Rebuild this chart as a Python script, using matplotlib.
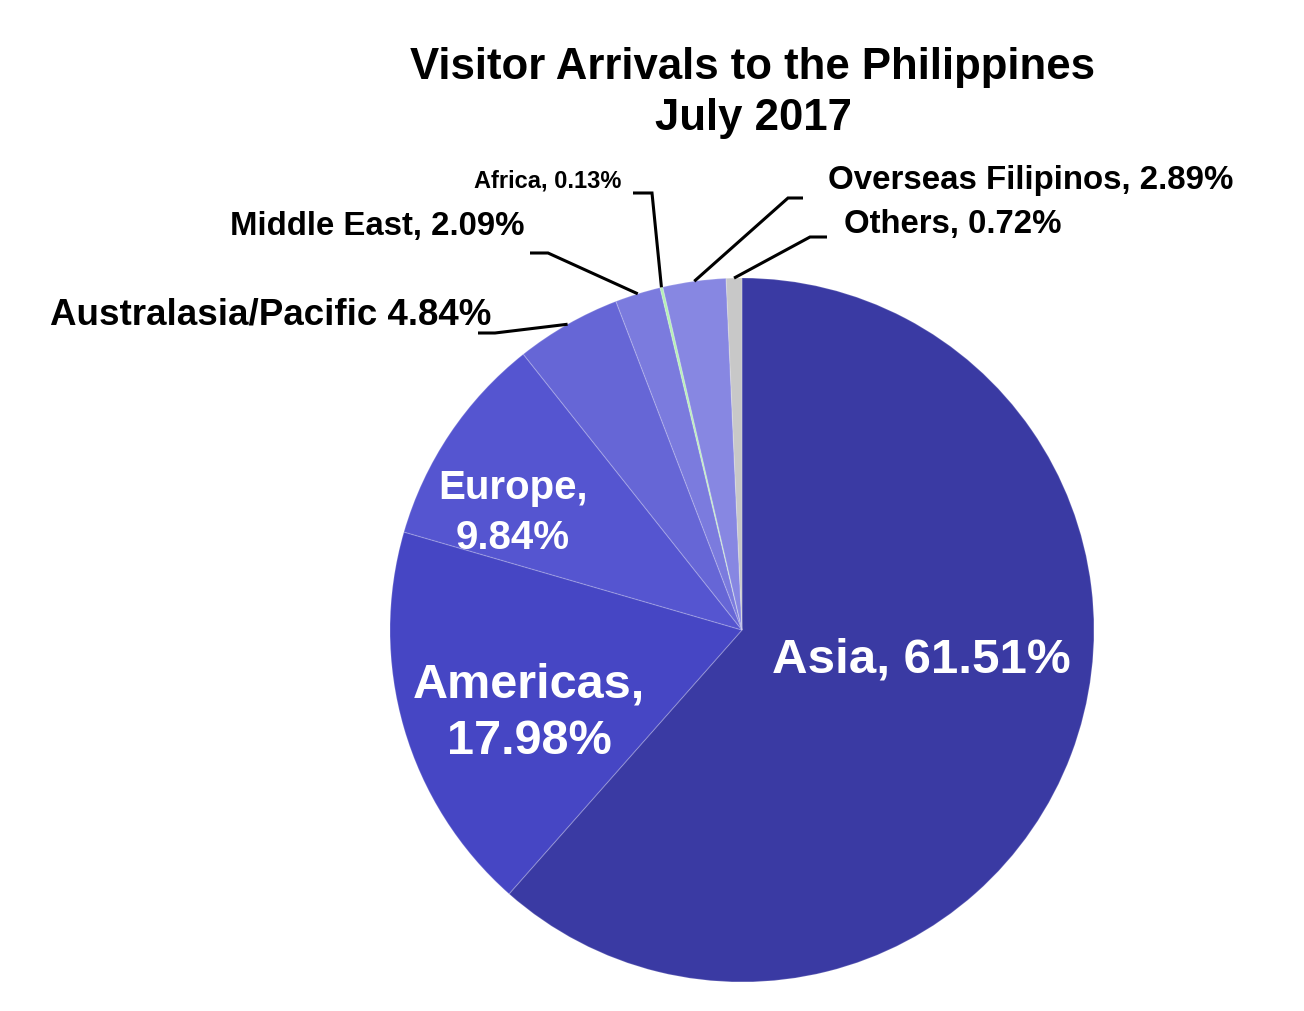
import numpy as np
import matplotlib
matplotlib.use("Agg")
import matplotlib.pyplot as plt

# ---- data ----
categories = ["Asia", "Americas", "Europe", "Australasia/Pacific", "Middle East",
              "Africa", "Overseas Filipinos", "Others"]
shares = [61.51, 17.98, 9.84, 4.84, 2.09, 0.13, 2.89, 0.72]
colors = ["#3A3AA3", "#4646C4", "#5555D0", "#6666D6", "#7B7BDE",
          "#B4F0B4", "#8787E2", "#C8C8C8"]
title_lines = ["Visitor Arrivals to the Philippines", "July 2017"]

W, H = 1304, 1011
FONT = ["Liberation Sans", "Arial", "DejaVu Sans"]
plt.rcParams["font.family"] = FONT


def px(x, y):
    return x, H - y


fig = plt.figure(figsize=(W / 100, H / 100), dpi=100)
ax = fig.add_axes([0, 0, 1, 1])

cx, cy = px(742, 630)
R = 352
ax.pie(shares, colors=colors, startangle=90, counterclock=False,
       center=(cx, cy), radius=R, frame=False,
       wedgeprops=dict(edgecolor=(1, 1, 1, 0.18), linewidth=0.9))
ax.set_xlim(0, W)
ax.set_ylim(0, H)
ax.set_aspect("equal")
ax.axis("off")

# wedge mid-angle anchors
cum = np.cumsum([0] + shares)
def anchor(i):
    mid = (cum[i] + cum[i + 1]) / 2.0 / 100.0 * 360.0
    a = np.deg2rad(mid)
    return cx + R * np.sin(a), cy + R * np.cos(a)

# outside labels: (index, label text, text center px, fontsize, elbow-start px, elbow px)
outside = [
    (3, "Australasia/Pacific 4.84%", (271, 315), 26.5, (478, 333), (495, 333)),
    (4, "Middle East, 2.09%", (377, 226), 23.7, (530, 253), (548, 253)),
    (5, "Africa, 0.13%", (548, 181), 17, (633, 193), (652, 193)),
    (6, "Overseas Filipinos, 2.89%", (1031, 181), 23.8, (803, 198), (788, 198)),
    (7, "Others, 0.72%", (953, 225), 23.7, (827, 237), (810, 237)),
]
for i, text, tpos, fs, p0, p1 in outside:
    ax.text(*px(*tpos), text, ha="center", va="center", fontsize=fs,
            fontweight="bold", color="black")
    ax_, ay_ = anchor(i)
    xs = [px(*p0)[0], px(*p1)[0], ax_]
    ys = [px(*p0)[1], px(*p1)[1], ay_]
    ax.plot(xs, ys, color="black", lw=2.2, solid_capstyle="butt",
            solid_joinstyle="miter")

# inside labels
ax.text(*px(921, 660), "Asia, 61.51%", ha="center", va="center",
        fontsize=35.5, fontweight="bold", color="white")
ax.text(*px(529, 713), "Americas,\n17.98%", ha="center", va="center",
        fontsize=35, fontweight="bold", color="white", linespacing=1.32)
ax.text(*px(513, 513), "Europe,\n9.84%", ha="center", va="center",
        fontsize=29, fontweight="bold", color="white", linespacing=1.38)

# title
ax.text(*px(753, 93), "\n".join(title_lines), ha="center", va="center",
        fontsize=31.5, fontweight="bold", color="black", linespacing=1.33)

fig.savefig("out.png", dpi=100, facecolor="white")
